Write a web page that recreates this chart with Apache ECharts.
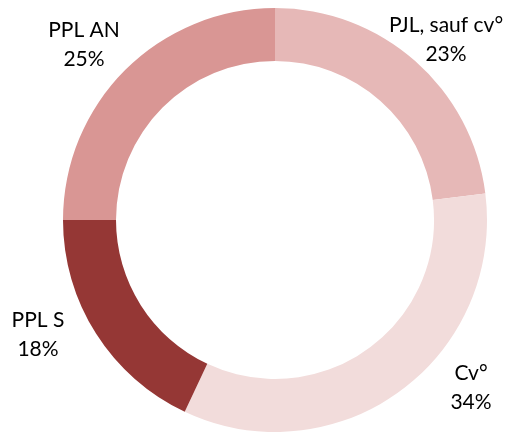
<!DOCTYPE html>
<html>
<head>
<meta charset="utf-8">
<script src="https://cdn.jsdelivr.net/npm/echarts@6/dist/echarts.min.js"></script>
<style>
  html, body { margin: 0; padding: 0; background: #fff; }
  #chart { width: 505px; height: 432px; }
</style>
</head>
<body>
<div id="chart"></div>
<script>
const categories = ['PJL, sauf cv°', 'Cv°', 'PPL S', 'PPL AN']
const shares = [23, 34, 18, 25]
const colorList = ['#E6B8B7', '#F2DCDB', '#953735', '#D99694']

// label anchor points, picked by eye
const labelPos = [[446, 40], [471, 388], [38, 335], [84, 45]]

const chart = echarts.init(document.getElementById('chart'))
const option = {
  animation: false,
  series: [
    {
      type: 'pie',
      center: [275, 220],
      radius: [159, 212],
      startAngle: 90,
      clockwise: true,
      label: {
        show: true,
        position: 'inside',
        formatter: (p) => p.name + '\n' + p.value + '%',
        fontFamily: 'Lato',
        fontSize: 21,
        lineHeight: 29,
        color: '#000',
        align: 'center',
        overflow: 'none'
      },
      labelLine: { show: false },
      labelLayout: (params) => {
        const pos = labelPos[params.dataIndex]
        return { x: pos[0], y: pos[1], align: 'center', verticalAlign: 'middle' }
      },
      itemStyle: {
        color: (params) => colorList[params.dataIndex]
      },
      data: categories.map((name, i) => ({ name: name, value: shares[i] }))
    }
  ]
}
chart.setOption(option)
</script>
</body>
</html>
